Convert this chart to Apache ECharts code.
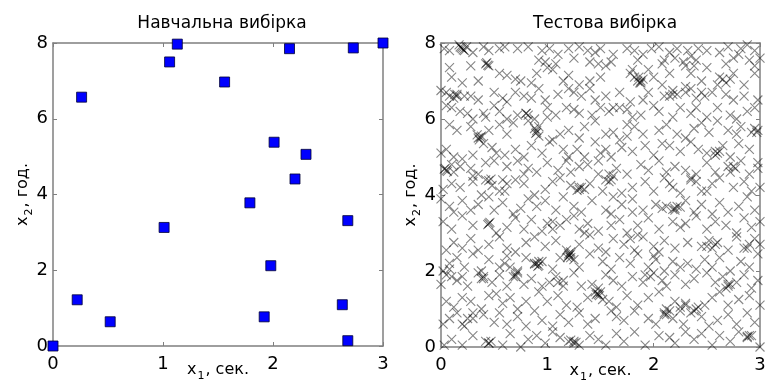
<!DOCTYPE html>
<html>
<head>
<meta charset="utf-8">
<script src="https://cdn.jsdelivr.net/npm/echarts@6/dist/echarts.min.js"></script>
<style>
  html, body { margin: 0; padding: 0; background: #fff; }
  #chart { width: 766px; height: 383px; }
</style>
</head>
<body>
<div id="chart"></div>
<script>
// навчальна вибірка: [x1, x2]
var trainPoints = [
  [0, 0], [0.22, 1.22], [0.26, 6.57], [0.52, 0.64], [1.01, 3.13],
  [1.06, 7.5], [1.13, 7.97], [1.56, 6.97], [1.79, 3.78], [1.92, 0.77],
  [1.98, 2.12], [2.01, 5.38], [2.15, 7.85], [2.2, 4.41], [2.3, 5.06],
  [2.63, 1.09], [2.68, 3.31], [2.68, 0.14], [2.73, 7.87], [3.0, 8.0]
];

// тестова вибірка (оцінено з рисунка, по смугах x2)
var testTop = [
  [0.03,7.85],[0.08,7.8],[0.18,7.9],[0.2,7.85],[0.22,7.8],[0.24,7.9],[0.3,7.75],[0.4,7.9],[0.45,7.8],[0.55,7.85],
  [0.6,7.9],[0.72,7.85],[0.82,7.9],[0.95,7.8],[1.02,7.85],[1.1,7.7],[1.2,7.85],[1.3,7.9],[1.38,7.8],[1.45,7.75],
  [1.5,7.85],[1.62,7.7],[1.75,7.85],[1.82,7.8],[1.9,7.7],[1.98,7.85],[2.05,7.9],[2.15,7.75],[2.22,7.85],[2.32,7.8],
  [2.42,7.85],[2.5,7.8],[2.62,7.75],[2.7,7.9],[2.82,7.85],[2.88,7.95],[2.95,7.8],[3.0,7.6],
  [0.08,7.35],[0.28,7.4],[0.42,7.45],[0.45,7.4],[0.92,7.55],[0.98,7.5],[1.0,7.35],[1.05,7.3],[1.08,7.45],[1.25,7.6],
  [1.4,7.5],[1.48,7.45],[1.55,7.4],[1.6,7.5],[1.8,7.3],[1.85,7.55],[1.95,7.3],[2.08,7.45],[2.2,7.6],[2.28,7.5],
  [2.3,7.4],[2.4,7.55],[2.5,7.35],[2.68,7.45],[2.75,7.6],[2.8,7.7],[2.9,7.55],[2.95,7.4],
  [0.1,7.1],[0.2,6.95],[0.35,7.0],[0.55,7.2],[0.62,7.15],[0.7,7.05],[0.75,7.0],[0.85,6.95],[0.9,7.2],[1.15,7.0],
  [1.2,7.15],[1.3,6.9],[1.4,7.0],[1.5,7.1],[1.78,7.2],[1.82,7.1],[1.85,7.0],[1.88,6.95],[2.0,7.1],[2.08,6.9],
  [2.15,7.2],[2.35,7.2],[2.45,7.0],[2.62,7.1],[2.68,6.95],[2.72,7.05],[2.75,7.2],[2.85,6.9],[2.95,7.2],
  [0.0,6.75],[0.05,6.7],[0.08,6.6],[0.12,6.55],[0.15,6.65],[0.22,6.6],[0.28,6.6],[0.35,6.5],[0.5,6.7],[0.58,6.55],
  [0.62,6.45],[0.7,6.7],[0.78,6.6],[0.85,6.55],[0.92,6.8],[0.98,6.5],[1.1,6.65],[1.2,6.8],[1.25,6.7],[1.32,6.6],
  [1.4,6.8],[1.45,6.5],[1.55,6.6],[1.68,6.7],[1.78,6.45],[1.9,6.5],[1.95,6.7],[2.1,6.6],[2.18,6.75],[2.22,6.65],
  [2.3,6.7],[2.35,6.8],[2.4,6.55],[2.48,6.6],[2.55,6.7],[2.68,6.65],[2.75,6.5],[2.85,6.6],[2.98,6.5],
  [0.05,6.35],[0.1,6.3],[0.18,6.2],[0.25,6.15],[0.3,6.0],[0.42,6.05],[0.5,6.35],[0.55,6.2],[0.62,6.0],[0.72,6.1],
  [0.8,6.15],[0.88,6.0],[1.0,6.3],[1.08,6.1],[1.18,6.3],[1.25,6.25],[1.3,6.15],[1.42,6.1],[1.5,6.3],[1.58,6.2],
  [1.68,6.3],[1.8,6.05],[1.88,6.1],[2.0,6.35],[2.05,6.2],[2.18,6.05],[2.25,6.3],[2.35,6.15],[2.4,6.3],[2.5,6.05],
  [2.6,6.3],[2.72,6.1],[2.78,6.0],[2.88,6.2],[2.95,6.3]
];
var testMid = [
  [0.08,5.85],[0.15,5.7],[0.28,5.8],[0.35,5.5],[0.38,5.55],[0.45,5.7],[0.55,5.85],[0.62,5.6],[0.68,5.9],[0.82,5.95],
  [0.88,5.75],[0.9,5.65],[0.92,5.55],[1.02,5.4],[1.12,5.6],[1.2,5.7],[1.3,5.5],[1.35,5.8],[1.45,5.95],[1.55,5.6],
  [1.62,5.65],[1.75,5.55],[1.82,5.8],[1.9,5.6],[2.05,5.7],[2.12,5.85],[2.22,5.6],[2.3,5.5],[2.38,5.75],[2.45,5.9],
  [2.52,5.65],[2.6,5.95],[2.7,5.7],[2.78,5.6],[2.82,5.8],[2.92,5.65],[2.98,5.7],
  [0.0,5.1],[0.05,5.2],[0.12,5.0],[0.2,4.95],[0.3,5.05],[0.4,5.35],[0.48,5.25],[0.52,5.1],[0.6,5.05],[0.7,5.2],
  [0.78,5.0],[0.85,5.3],[0.95,5.1],[1.05,5.45],[1.15,5.2],[1.2,5.0],[1.28,5.2],[1.35,5.0],[1.45,5.4],[1.5,5.1],
  [1.55,5.2],[1.6,5.0],[1.7,5.25],[1.8,5.15],[1.92,5.3],[2.0,5.05],[2.08,5.35],[2.15,5.3],[2.25,5.15],[2.35,5.4],
  [2.42,5.2],[2.5,5.1],[2.58,5.15],[2.65,5.3],[2.72,5.0],[2.8,5.35],[2.9,5.2],[2.98,4.85],
  [0.05,4.65],[0.1,4.8],[0.12,4.6],[0.18,4.75],[0.28,4.7],[0.35,4.55],[0.42,4.85],[0.5,4.9],[0.62,4.75],[0.72,4.9],
  [0.78,4.55],[0.82,4.7],[0.9,4.6],[1.0,4.85],[1.1,4.65],[1.18,4.9],[1.22,4.6],[1.3,4.75],[1.38,4.8],[1.48,4.9],
  [1.58,4.55],[1.65,4.7],[1.75,4.55],[1.88,4.8],[1.95,4.65],[2.05,4.9],[2.12,4.6],[2.2,4.75],[2.3,4.65],[2.4,4.55],
  [2.5,4.85],[2.58,4.6],[2.7,4.75],[2.72,4.6],[2.82,4.9],[2.9,4.55],[2.98,4.7],
  [0.02,4.15],[0.1,4.3],[0.18,4.2],[0.3,4.35],[0.38,4.0],[0.42,4.4],[0.48,4.25],[0.55,4.1],[0.62,4.3],[0.7,4.4],
  [0.78,4.3],[0.88,4.0],[0.98,4.15],[1.05,4.35],[1.12,4.45],[1.22,4.25],[1.3,4.2],[1.35,4.15],[1.4,4.3],[1.52,4.1],
  [1.6,4.4],[1.62,4.5],[1.7,4.05],[1.8,4.2],[1.92,4.35],[2.0,4.1],[2.1,4.45],[2.18,4.2],[2.25,4.05],[2.35,4.4],
  [2.45,4.1],[2.55,4.3],[2.62,4.45],[2.75,4.2],[2.85,4.35],[2.92,4.1],[3.0,4.2],
  [0.0,3.9],[0.08,3.7],[0.12,3.55],[0.2,3.85],[0.28,3.6],[0.35,3.75],[0.45,3.95],[0.5,3.6],[0.58,3.8],[0.68,3.5],
  [0.75,3.65],[0.82,3.9],[0.9,3.7],[0.98,3.85],[1.08,3.6],[1.15,3.95],[1.25,3.7],[1.32,3.55],[1.42,3.85],[1.55,3.6],
  [1.62,3.95],[1.7,3.75],[1.8,3.9],[1.9,3.6],[2.02,3.75],[2.08,3.65],[2.12,3.7],[2.2,3.6],[2.3,3.85],[2.38,3.55],
  [2.45,3.75],[2.55,3.5],[2.62,3.8],[2.7,3.55],[2.8,3.7],[2.88,3.95],[2.95,3.6]
];
var testLow = [
  [0.02,3.3],[0.1,3.1],[0.2,3.45],[0.3,3.2],[0.45,3.25],[0.52,3.0],[0.62,3.15],[0.7,3.4],[0.78,3.1],[0.85,3.35],
  [0.95,3.05],[1.05,3.3],[1.12,3.2],[1.18,3.35],[1.25,3.45],[1.3,3.1],[1.38,3.25],[1.48,3.05],[1.6,3.2],[1.68,3.35],
  [1.75,3.0],[1.85,3.2],[1.95,3.4],[2.05,3.1],[2.18,3.3],[2.25,3.15],[2.3,3.25],[2.4,3.45],[2.5,3.1],[2.58,3.3],
  [2.68,3.2],[2.78,3.0],[2.85,3.4],[2.92,3.15],[3.0,3.3],
  [0.05,2.55],[0.12,2.75],[0.2,2.6],[0.28,2.85],[0.35,2.55],[0.45,2.7],[0.55,2.9],[0.62,2.6],[0.7,2.5],[0.8,2.75],
  [0.88,2.9],[0.98,2.65],[1.08,2.8],[1.18,2.55],[1.22,2.45],[1.3,2.7],[1.4,2.95],[1.48,2.6],[1.55,2.5],[1.62,2.85],
  [1.72,2.7],[1.82,2.55],[1.9,2.9],[2.0,2.65],[2.1,2.8],[2.2,2.6],[2.32,2.75],[2.45,2.65],[2.52,2.8],[2.6,2.75],
  [2.7,2.55],[2.78,2.9],[2.88,2.6],[2.95,2.85],
  [0.02,2.0],[0.08,2.2],[0.15,2.35],[0.22,2.1],[0.3,2.45],[0.38,2.0],[0.45,2.3],[0.55,2.1],[0.62,2.4],[0.72,2.0],
  [0.8,2.35],[0.88,2.2],[0.92,2.15],[0.95,2.25],[1.05,2.05],[1.12,2.35],[1.2,2.45],[1.22,2.35],[1.25,2.3],[1.3,2.1],
  [1.4,2.45],[1.52,2.25],[1.6,2.05],[1.68,2.35],[1.78,2.2],[1.85,2.45],[1.95,2.1],[2.02,2.3],[2.1,2.0],[2.18,2.25],
  [2.25,2.1],[2.32,2.2],[2.4,2.05],[2.48,2.3],[2.55,2.1],[2.62,2.35],[2.72,2.0],[2.82,2.25],[2.9,2.1],[2.98,2.45],
  [0.0,1.65],[0.05,1.9],[0.15,1.75],[0.2,1.85],[0.25,1.6],[0.35,1.95],[0.4,1.8],[0.48,1.7],[0.55,1.9],[0.62,1.6],
  [0.68,1.85],[0.7,1.9],[0.78,1.65],[0.85,1.8],[0.95,1.6],[1.02,1.7],[1.08,1.85],[1.15,1.75],[1.25,1.95],[1.32,1.6],
  [1.42,1.65],[1.48,1.55],[1.55,1.9],[1.62,1.75],[1.7,1.6],[1.8,1.85],[1.9,1.7],[2.0,1.95],[2.08,1.75],[2.12,1.6],
  [2.2,1.9],[2.3,1.65],[2.38,1.8],[2.5,1.95],[2.58,1.7],[2.65,1.85],[2.7,1.65],[2.78,1.7],[2.85,1.9],[2.92,1.55],[2.98,1.75],
  [0.05,1.2],[0.12,1.05],[0.2,1.3],[0.28,1.2],[0.38,1.0],[0.45,1.35],[0.52,1.4],[0.58,1.15],[0.65,1.3],[0.72,1.0],
  [0.8,1.2],[0.92,1.45],[1.0,1.2],[1.1,1.35],[1.18,1.1],[1.28,1.05],[1.38,1.3],[1.45,1.45],[1.48,1.38],[1.52,1.25],
  [1.58,1.2],[1.65,1.05],[1.75,1.35],[1.85,1.1],[1.95,1.3],[2.05,1.45],[2.12,1.0],[2.2,1.2],[2.25,0.95],[2.3,1.15],
  [2.42,1.05],[2.48,1.1],[2.55,1.3],[2.62,1.45],[2.7,1.1],[2.8,1.25],[2.9,1.35],[3.0,1.1],
  [0.02,0.6],[0.08,0.75],[0.15,0.9],[0.22,0.55],[0.3,0.75],[0.4,0.85],[0.5,0.65],[0.55,0.9],[0.62,0.6],[0.72,0.8],
  [0.8,0.55],[0.88,0.95],[0.95,0.7],[1.05,0.55],[1.12,0.85],[1.2,0.65],[1.3,0.9],[1.38,0.6],[1.45,0.75],[1.6,0.95],
  [1.65,0.8],[1.72,0.7],[1.82,0.95],[1.95,0.75],[2.02,0.6],[2.1,0.85],[2.18,0.75],[2.28,0.6],[2.35,0.9],[2.45,0.8],
  [2.52,0.55],[2.6,0.7],[2.7,0.85],[2.78,0.6],[2.88,0.9],[2.95,0.65],
  [0.03,0.05],[0.1,0.2],[0.2,0.05],[0.3,0.3],[0.42,0.15],[0.45,0.1],[0.58,0.05],[0.65,0.35],[0.75,0.0],[0.82,0.2],
  [0.9,0.3],[0.98,0.1],[1.05,0.4],[1.12,0.25],[1.2,0.15],[1.25,0.1],[1.3,0.05],[1.4,0.3],[1.48,0.2],[1.55,0.05],
  [1.65,0.35],[1.72,0.15],[1.82,0.4],[1.92,0.05],[2.05,0.3],[2.15,0.25],[2.2,0.1],[2.3,0.4],[2.38,0.2],[2.45,0.35],
  [2.55,0.05],[2.62,0.3],[2.72,0.15],[2.8,0.4],[2.88,0.25],[2.92,0.3],[3.0,0.0]
];
// темніші скупчення хрестиків
var testClusters = [
  [0.19,7.88],[0.21,7.82],[0.17,7.95],[0.43,7.48],[0.44,7.42],[0.36,5.45],[0.37,5.52],[0.34,5.58],[0.06,4.62],[0.04,4.7],
  [0.45,4.38],[0.47,4.42],[0.44,3.22],[0.46,3.28],[0.9,2.2],[0.92,2.25],[0.88,2.18],[0.91,2.12],[1.2,2.4],[1.22,2.5],
  [1.19,2.35],[1.21,2.42],[1.47,1.42],[1.49,1.35],[1.46,1.38],[1.5,1.45],[1.3,4.15],[1.32,4.2],[1.28,4.12],[1.88,7.0],
  [1.9,7.05],[1.87,6.95],[1.86,7.1],[2.2,3.65],[2.22,3.7],[2.18,3.62],[2.25,3.68],[2.6,5.1],[2.62,5.15],[2.58,5.05],
  [2.7,1.6],[2.72,1.65],[2.68,1.55],[2.4,1.0],[2.38,0.95],[2.1,0.9],[2.12,0.85],[2.15,0.95],[1.25,0.15],[1.27,0.12],
  [1.22,0.18],[0.9,5.7],[0.92,5.8],[0.89,5.62],[2.15,6.6],[2.18,6.65],[0.8,6.15],[0.82,6.1],[2.75,4.75],[2.77,4.7],
  [2.9,0.3],[2.88,0.28],[0.38,1.8],[0.4,1.85],[0.7,1.85],[0.72,1.95],[0.03,4.68],[1.8,3.55],[1.48,4.55],[1.55,4.4],
  [1.58,4.35],[2.45,6.7],[2.3,6.85],[0.15,6.6],[0.13,6.65],[2.95,5.75],[2.97,5.65],[1.6,3.5],[1.1,1.7],[1.15,1.6],
  [0.2,0.6],[0.25,0.75],[0.45,0.1],[0.47,0.15],[0.6,2.2],[0.65,2.1],[2.85,2.6],[2.9,2.7],[3.0,2.7],[2.5,2.65],
  [2.55,2.6],[2.58,2.7],[2.0,2.4],[2.05,2.5],[1.92,1.9],[1.97,1.85],[2.25,1.05],[2.3,1.1],[1.0,3.25],[1.05,3.1],
  [0.6,4.1],[0.58,4.4],[0.3,4.5],[2.35,4.45],[2.4,4.35],[2.1,7.55],[2.35,7.65],[2.38,7.4],[1.62,6.3],[1.75,6.25],
  [1.0,6.05],[0.4,6.15],[2.6,6.9],[2.65,7.05],[0.3,0.9],[0.1,1.85],[0.08,2.05],[1.78,2.85],[1.85,2.95],[1.35,3.0],
  [1.75,5.85],[1.68,5.45],[2.5,4.1],[2.15,4.3]
];
var testPoints = testTop.concat(testMid, testLow, testClusters);

var xTicks = [0, 1, 2, 3];
var yTicks = [0, 2, 4, 6, 8];

var chart = echarts.init(document.getElementById('chart'));

var FONT = 'DejaVu Sans';
var frameColor = '#7f7f7f';

var nameRich = {
  a: { fontFamily: FONT, fontSize: 16, color: '#000' },
  s: { fontFamily: FONT, fontSize: 11, color: '#000', padding: [14, 1, 0, 1] },
};

function xAxisPair(gridIndex) {
  return [
    {
      gridIndex: gridIndex,
      type: 'value',
      min: xTicks[0],
      max: xTicks[xTicks.length - 1],
      interval: 1,
      position: 'bottom',
      name: '{a|x}{s|1}{a|, сек.}',
      nameLocation: 'middle',
      nameGap: 11,
      nameMoveOverlap: false,
      nameTextStyle: { rich: nameRich },
      axisLine: { show: true, onZero: false, lineStyle: { color: frameColor, width: 1.5 } },
      axisTick: { show: true, inside: true, length: 4, lineStyle: { color: frameColor } },
      axisLabel: { fontFamily: FONT, fontSize: 18, color: '#000', margin: 9 },
      splitLine: { show: false },
    },
    {
      gridIndex: gridIndex,
      type: 'value',
      min: xTicks[0],
      max: xTicks[xTicks.length - 1],
      interval: 1,
      position: 'top',
      axisLine: { show: true, onZero: false, lineStyle: { color: frameColor, width: 1.5 } },
      axisTick: { show: true, inside: true, length: 4, lineStyle: { color: frameColor } },
      axisLabel: { show: false },
      splitLine: { show: false },
    },
  ];
}

function yAxisPair(gridIndex) {
  return [
    {
      gridIndex: gridIndex,
      type: 'value',
      min: yTicks[0],
      max: yTicks[yTicks.length - 1],
      interval: 2,
      position: 'left',
      name: '{a|x}{s|2}{a|, год.}',
      nameLocation: 'middle',
      nameGap: 18,
      nameMoveOverlap: false,
      nameTextStyle: { rich: nameRich },
      axisLine: { show: true, onZero: false, lineStyle: { color: frameColor, width: 1.5 } },
      axisTick: { show: true, inside: true, length: 4, lineStyle: { color: frameColor } },
      axisLabel: { fontFamily: FONT, fontSize: 18, color: '#000', margin: 5 },
      splitLine: { show: false },
    },
    {
      gridIndex: gridIndex,
      type: 'value',
      min: yTicks[0],
      max: yTicks[yTicks.length - 1],
      interval: 2,
      position: 'right',
      axisLine: { show: true, onZero: false, lineStyle: { color: frameColor, width: 1.5 } },
      axisTick: { show: true, inside: true, length: 4, lineStyle: { color: frameColor } },
      axisLabel: { show: false },
      splitLine: { show: false },
    },
  ];
}

var option = {
  animation: false,
  backgroundColor: '#fff',
  title: [
    {
      text: 'Навчальна вибірка',
      left: 217,
      top: 10,
      textAlign: 'center',
      textStyle: { fontFamily: FONT, fontSize: 17, fontWeight: 'normal', color: '#000' },
    },
    {
      text: 'Тестова вибірка',
      left: 600,
      top: 10,
      textAlign: 'center',
      textStyle: { fontFamily: FONT, fontSize: 17, fontWeight: 'normal', color: '#000' },
    },
  ],
  grid: [
    { left: 53, right: 383, top: 43, bottom: 37, outerBoundsMode: 'none' },
    { left: 441, right: 6, top: 43, bottom: 36, outerBoundsMode: 'none' },
  ],
  xAxis: xAxisPair(0).concat(xAxisPair(1)),
  yAxis: yAxisPair(0).concat(yAxisPair(1)),
  series: [
    {
      type: 'scatter',
      xAxisIndex: 0,
      yAxisIndex: 0,
      symbol: 'rect',
      symbolSize: 10,
      clip: false,
      itemStyle: { color: '#0000ff', borderColor: '#000033', borderWidth: 0.8, opacity: 1 },
      data: trainPoints,
    },
    {
      type: 'scatter',
      xAxisIndex: 2,
      yAxisIndex: 2,
      symbol: 'path://M0,0L10,10M10,0L0,10',
      symbolSize: 9,
      clip: false,
      itemStyle: { color: 'transparent', borderColor: 'rgba(0,0,0,0.6)', borderWidth: 1.1 },
      data: testPoints,
    },
  ],
};

chart.setOption(option);
</script>
</body>
</html>
